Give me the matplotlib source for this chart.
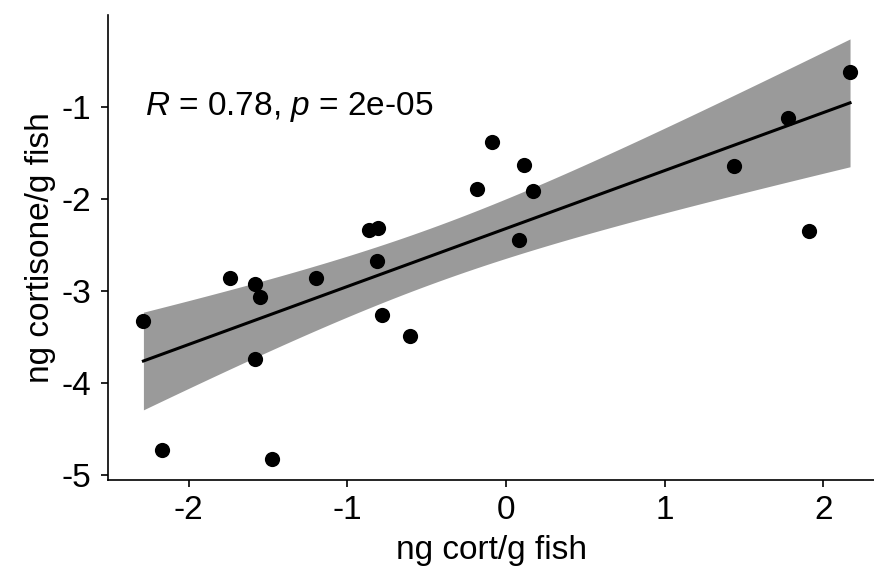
import numpy as np
import matplotlib
matplotlib.use("Agg")
import matplotlib.pyplot as plt

plt.rcParams['font.family'] = ['Liberation Sans', 'DejaVu Sans']
plt.rcParams['mathtext.fontset'] = 'custom'
plt.rcParams['mathtext.rm'] = 'Liberation Sans'
plt.rcParams['mathtext.it'] = 'Liberation Sans:italic'

### Data
cort = [-2.285, -2.170, -1.739, -1.582, -1.550, -1.582, -1.476, -1.197,
        -0.861, -0.805, -0.811, -0.783, -0.605, -0.181, -0.090, 0.113,
        0.172, 0.084, 1.437, 1.775, 1.909, 2.168]
cortisone = [-3.33, -4.73, -2.86, -2.92, -3.06, -3.74, -4.83, -2.86,
             -2.34, -2.32, -2.67, -3.26, -3.49, -1.89, -1.38, -1.63,
             -1.91, -2.45, -1.64, -1.12, -2.35, -0.62]
x_ticks = [-2, -1, 0, 1, 2]
y_ticks = [-1, -2, -3, -4, -5]
p_text = "2e-05"

x = np.array(cort)
y = np.array(cortisone)
n = len(x)

### Linear fit + 95% confidence band
slope, icpt = np.polyfit(x, y, 1)
xs = np.linspace(x.min(), x.max(), 80)
ys = icpt + slope * xs
resid = y - (icpt + slope * x)
s = np.sqrt(np.sum(resid ** 2) / (n - 2))
sxx = np.sum((x - x.mean()) ** 2)
se = s * np.sqrt(1.0 / n + (xs - x.mean()) ** 2 / sxx)
t_crit = 2.086  # t(0.975, df=20)
r = np.corrcoef(x, y)[0, 1]

fig = plt.figure(figsize=(8.74, 5.83), dpi=100)
ax = fig.add_axes([0.1236, 0.1767, 0.8764, 0.7976])

ax.fill_between(xs, ys - t_crit * se, ys + t_crit * se, color='#9a9a9a', lw=0, zorder=1)
ax.plot(xs, ys, color='black', lw=2.2, zorder=2)
ax.scatter(x, y, s=120, color='black', zorder=3, linewidths=0)

ax.text(-2.275, -1.09, r'$\it{R}$ = %.2f, $\it{p}$ = %s' % (r, p_text),
        fontsize=24, ha='left', va='baseline')

ax.set_xlim(-2.508, 2.319)
ax.set_ylim(-5.054, 0.0)
ax.set_xticks(x_ticks)
ax.set_yticks(y_ticks)
ax.set_xticklabels([str(v) for v in x_ticks])
ax.set_yticklabels([str(v) for v in y_ticks])

for side in ['top', 'right']:
    ax.spines[side].set_visible(False)
for side in ['left', 'bottom']:
    ax.spines[side].set_linewidth(1.2)
    ax.spines[side].set_color('black')

ax.tick_params(axis='both', length=5, width=1.2, color='black',
               labelsize=24, labelcolor='black')
ax.tick_params(axis='y', pad=7)
ax.tick_params(axis='x', pad=6)

ax.set_xlabel('ng cort/g fish', fontsize=24, labelpad=6)
ax.set_ylabel('ng cortisone/g fish', fontsize=24, labelpad=4)

fig.savefig('out.png', dpi=100)
